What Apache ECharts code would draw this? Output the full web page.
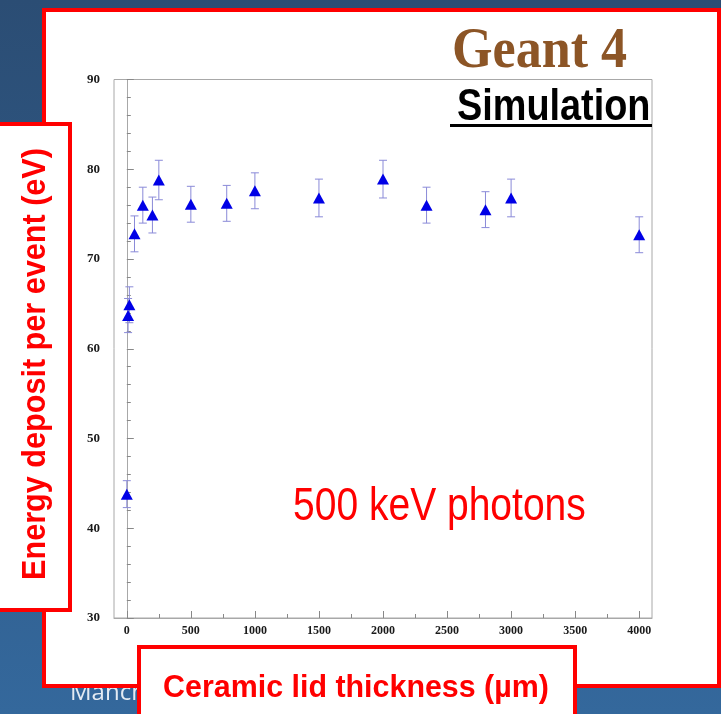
<!DOCTYPE html>
<html>
<head>
<meta charset="utf-8">
<script src="https://cdn.jsdelivr.net/npm/echarts@6/dist/echarts.min.js"></script>
<style>
  html, body { margin: 0; padding: 0; background: #2d5078; }
  #chart { width: 721px; height: 714px; }
</style>
</head>
<body>
<div id="chart"></div>
<script>
// ceramic lid thickness (um)
const thickness = [0, 10, 20, 60, 125, 200, 250, 500, 780, 1000, 1500, 2000, 2340, 2800, 3000, 4000]
// energy deposit per event (eV)
const energy = [43.8, 63.7, 64.9, 72.8, 76.0, 74.9, 78.8, 76.1, 76.2, 77.6, 76.8, 78.9, 76.0, 75.5, 76.8, 72.7]
const errors = [1.5, 1.9, 2.0, 2.0, 2.0, 2.0, 2.2, 2.0, 2.0, 2.0, 2.1, 2.1, 2.0, 2.0, 2.1, 2.0]

const xTicks = [0, 500, 1000, 1500, 2000, 2500, 3000, 3500, 4000]
const xMinorTicks = [250, 750, 1250, 1750, 2250, 2750, 3250, 3750]
const yTicks = [30, 40, 50, 60, 70, 80, 90]

const red = '#ff0000'
const frameColor = '#a8a8a8'
const tickFont = { fontFamily: 'Liberation Serif', fontWeight: 'bold', color: '#1a1a1a' }

const points = thickness.map((t, i) => [t, energy[i]])
const bars = thickness.map((t, i) => [t, energy[i] - errors[i], energy[i] + errors[i]])

const chart = echarts.init(document.getElementById('chart'))

// texts are placed by their top edge (baseline ~ top + 0.82 * font size)
chart.setOption({
  animation: false,
  graphic: [
    {
      type: 'rect', z: -30,
      shape: { x: 0, y: 0, width: 721, height: 714 },
      style: {
        fill: new echarts.graphic.LinearGradient(0, 0, 0, 1, [
          { offset: 0, color: '#2b4d74' },
          { offset: 1, color: '#34689c' }
        ])
      }
    },
    {
      type: 'text', z: -25, x: 70, y: 681,
      style: { text: 'Manchester', font: '24px "Open Sans"', fill: '#e4ebf3', verticalAlign: 'top' }
    },
    {
      type: 'rect', z: -20,
      shape: { x: 44, y: 10, width: 675, height: 676 },
      style: { fill: '#ffffff', stroke: red, lineWidth: 4 }
    },
    // Geant 4 logo
    {
      type: 'text', z: 10, x: 452, y: 25, scaleX: 0.93,
      style: {
        text: 'Geant 4',
        font: 'bold 56px "Liberation Serif"',
        fill: '#8c5526',
        shadowBlur: 3, shadowColor: 'rgba(70,35,5,0.7)', shadowOffsetX: 1, shadowOffsetY: 1,
        verticalAlign: 'top'
      }
    },
    {
      type: 'text', z: 10, x: 457, y: 86, scaleX: 0.86,
      style: { text: 'Simulation', font: 'bold 44px "Liberation Sans"', fill: '#000', verticalAlign: 'top' }
    },
    {
      type: 'line', z: 10,
      shape: { x1: 450, y1: 125.5, x2: 652, y2: 125.5 },
      style: { stroke: '#000', lineWidth: 3 }
    },
    {
      type: 'text', z: 10, x: 293, y: 484, scaleX: 0.83,
      style: { text: '500 keV photons', font: '47px "Liberation Sans"', fill: red, verticalAlign: 'top' }
    },
    // axis title boxes
    {
      type: 'rect', z: 50,
      shape: { x: -10, y: 124, width: 80, height: 486 },
      style: { fill: '#fff', stroke: red, lineWidth: 4 }
    },
    {
      type: 'text', z: 51, x: 19, y: 364, rotation: Math.PI / 2, scaleX: 0.9,
      style: {
        text: 'Energy deposit per event (eV)', font: 'bold 34px "Liberation Sans"', fill: red,
        align: 'center', verticalAlign: 'top'
      }
    },
    {
      type: 'rect', z: 50,
      shape: { x: 139, y: 647, width: 436, height: 80 },
      style: { fill: '#fff', stroke: red, lineWidth: 4 }
    },
    {
      type: 'text', z: 51, x: 356, y: 672, scaleX: 0.95,
      style: {
        text: 'Ceramic lid thickness (\u00b5m)', font: 'bold 32px "Liberation Sans"', fill: red,
        align: 'center', verticalAlign: 'top'
      }
    }
  ],
  grid: {
    left: 114, top: 79.5, right: 69, bottom: 96,
    show: true, borderColor: frameColor, borderWidth: 1, backgroundColor: 'transparent'
  },
  xAxis: [
    {
      type: 'value', min: -100, max: 4100,
      axisLine: { lineStyle: { color: frameColor } },
      axisTick: { inside: true, length: 7, customValues: xTicks, lineStyle: { color: '#888' } },
      axisLabel: { customValues: xTicks, margin: 7, fontSize: 12, formatter: v => String(v), ...tickFont },
      splitLine: { show: false }
    },
    {
      type: 'value', min: -100, max: 4100, position: 'bottom',
      axisLine: { show: false },
      axisTick: { inside: true, length: 4, customValues: xMinorTicks, lineStyle: { color: '#888' } },
      axisLabel: { show: false },
      splitLine: { show: false }
    }
  ],
  yAxis: {
    type: 'value', min: 30, max: 90, interval: 10,
    axisLine: { show: true, lineStyle: { color: frameColor } },
    axisTick: { inside: true, length: 7, lineStyle: { color: '#888' } },
    minorTick: { show: true, splitNumber: 5, length: 4, lineStyle: { color: '#888' } },
    axisLabel: { customValues: yTicks, margin: 14, fontSize: 13, formatter: v => String(v), ...tickFont },
    splitLine: { show: false }
  },
  series: [
    {
      type: 'custom',
      data: bars,
      z: 3,
      renderItem(params, api) {
        const top = api.coord([api.value(0), api.value(2)])
        const bottom = api.coord([api.value(0), api.value(1)])
        const cap = 4
        const style = { stroke: '#8a8ad8', lineWidth: 1 }
        return {
          type: 'group',
          children: [
            { type: 'line', shape: { x1: top[0], y1: top[1], x2: bottom[0], y2: bottom[1] }, style },
            { type: 'line', shape: { x1: top[0] - cap, y1: top[1], x2: top[0] + cap, y2: top[1] }, style },
            { type: 'line', shape: { x1: bottom[0] - cap, y1: bottom[1], x2: bottom[0] + cap, y2: bottom[1] }, style }
          ]
        }
      }
    },
    {
      type: 'scatter',
      data: points,
      z: 4,
      symbol: 'triangle',
      symbolSize: [12, 11],
      itemStyle: { color: '#0000e6', opacity: 1 }
    }
  ]
})
</script>
</body>
</html>
